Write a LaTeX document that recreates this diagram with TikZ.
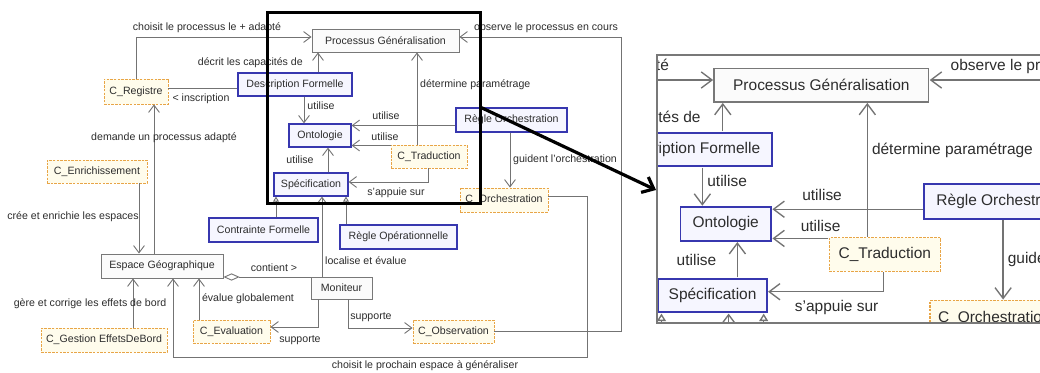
\documentclass[tikz,border=0pt]{standalone}
\usepackage{fontspec}
\setmainfont{Liberation Sans}
\usetikzlibrary{arrows.meta}
\definecolor{bluebd}{RGB}{55,55,175}
\definecolor{bluefill}{RGB}{246,246,255}
\definecolor{orbd}{RGB}{232,165,70}
\definecolor{orfill}{RGB}{255,252,236}
\definecolor{graybd}{RGB}{120,120,120}
\definecolor{grayfill}{RGB}{251,251,251}
\definecolor{conn}{RGB}{115,115,115}
\definecolor{txt}{RGB}{45,45,45}
\def\lw{0.9pt}
\tikzset{
  base/.style={font=\fontsize{10.6pt}{12pt}\selectfont, text=txt, inner sep=0pt, anchor=center},
  boxsz/.style 2 args={minimum width=#1pt, minimum height=#2pt},
  bluebox/.style={base, draw=bluebd, fill=bluefill, line width=1.4*\lw},
  orbox/.style={base, draw=orbd, fill=orfill, line width=\lw, dash pattern=on 2.5pt off 1.2pt},
  graybox/.style={base, draw=graybd, fill=grayfill, line width=\lw},
  lbl/.style={base},
  cn/.style={draw=conn, line width=\lw},
  arr/.style={cn, -{Straight Barb[length=0pt 8, width=0pt 12]}},
  gen/.style={cn, -{Triangle[open, length=0pt 5.5, width=0pt 6.5]}},
  agg/.style={cn, {Diamond[open, length=0pt 18, width=0pt 8]}-},
}
\newcommand{\drawdiagram}{%
  % nodes
  \node[graybox, boxsz={147}{23}] (proc) at (385.5,40.5) {Processus Généralisation};
  \node[bluebox, boxsz={114}{23}] (desc) at (295,84.5) {Description Formelle};
  \node[orbox, boxsz={64}{25}] (reg) at (136,91.5) {C\_Registre};
  \node[bluebox, boxsz={62}{23}] (onto) at (320,135.5) {Ontologie};
  \node[bluebox, boxsz={111}{24}] (rorch) at (511.5,120) {Règle Orchestration};
  \node[orbox, boxsz={76}{23}] (trad) at (429,156.5) {C\_Traduction};
  \node[bluebox, boxsz={74}{23}] (spec) at (311,184.5) {Spécification};
  \node[bluebox, boxsz={109}{24}] (contr) at (263.5,230) {Contrainte Formelle};
  \node[bluebox, boxsz={117}{24}] (rop) at (398.5,237) {Règle Opérationnelle};
  \node[orbox, boxsz={88}{24}] (corch) at (504,200) {C\_Orchestration};
  \node[orbox, boxsz={100}{23}] (enr) at (97,171.5) {C\_Enrichissement};
  \node[graybox, boxsz={122}{24}] (esp) at (162,266) {Espace Géographique};
  \node[graybox, boxsz={61}{22}] (mon) at (341.5,288) {Moniteur};
  \node[orbox, boxsz={77}{23}] (eval) at (231.5,331.5) {C\_Evaluation};
  \node[orbox, boxsz={126}{24}] (gest) at (104,340) {C\_Gestion EffetsDeBord};
  \node[orbox, boxsz={81}{23}] (obs) at (453.5,331.5) {C\_Observation};
  % connectors
  \draw[arr] (reg.north) |- (proc.west |- 0,37);
  \node[lbl] (l1) at (207,28) {choisit le processus le + adapté};
  \draw[arr] (desc.north -| 318,0) -- (proc.south -| 318,0);
  \node[lbl, anchor=east] (l2) at (303,63) {décrit les capacités de};
  \draw[cn] (desc.west |- 0,88) -- (reg.east |- 0,88);
  \node[lbl] (l3) at (201,99) {< inscription};
  \draw[arr] (desc.south -| 304,0) -- (onto.north -| 304,0);
  \node[lbl] (l4) at (321,106) {utilise};
  \draw[arr] (rorch.west |- 0,125.5) -- (onto.east |- 0,125.5);
  \node[lbl] (l5) at (386,116) {utilise};
  \draw[arr] (trad.west |- 0,145.5) -- (onto.east |- 0,145.5);
  \node[lbl] (l6) at (385,137) {utilise};
  \draw[arr] (trad.north -| 417,0) -- (proc.south -| 417,0);
  \node[lbl, anchor=west] (l7) at (420,85) {détermine paramétrage};
  \draw[arr] (trad.south -| 428,0) |- (spec.east |- 0,182);
  \node[lbl] (l8) at (396,193) {s'appuie sur};
  \draw[arr] (spec.north -| 328,0) -- (onto.south -| 328,0);
  \node[lbl] (l9) at (300,160) {utilise};
  \draw[arr] (rorch.south -| 510,0) -- (corch.north -| 510,0);
  \node[lbl, anchor=west] (l10) at (513,160) {guident l'orchestration};
  \draw[arr] (corch.east |- 0,196) -| (587,357) -| (esp.south -| 173,0);
  \node[lbl] (l11) at (425,365.5) {choisit le prochain espace à généraliser};
  \draw[arr] (obs.east |- 0,331) -| (621,37) -- (proc.east |- 0,37);
  \node[lbl] (l12) at (546,28) {observe le processus en cours};
  \draw[arr] (mon.south -| 348,0) |- (obs.west |- 0,328);
  \node[lbl] (l13) at (371,317) {supporte};
  \draw[arr] (mon.south -| 318,0) |- (eval.east |- 0,327);
  \node[lbl] (l14) at (300,340) {supporte};
  \draw[arr] (mon.north -| 322,0) -- (spec.south -| 322,0);
  \node[lbl, anchor=west] (l15) at (325,261) {localise et évalue};
  \draw[gen] (contr.north -| 276,0) -- (spec.south -| 276,0);
  \draw[gen] (rop.north -| 346,0) -- (spec.south -| 346,0);
  \draw[agg] (esp.east |- 0,277) -- (mon.west |- 0,277);
  \node[lbl] (l16) at (274,268) {contient >};
  \draw[arr] (esp.north -| 154,0) -- (reg.south -| 154,0);
  \node[lbl] (l17) at (164,138) {demande un processus adapté};
  \draw[arr] (enr.south -| 139,0) -- (esp.north -| 139,0);
  \node[lbl] (l18) at (73,217) {crée et enrichie les espaces};
  \draw[arr] (gest.north -| 133,0) -- (esp.south -| 133,0);
  \node[lbl] (l19) at (90,304) {gère et corrige les effets de bord};
  \draw[arr] (eval.north -| 199,0) -- (esp.south -| 199,0);
  \node[lbl] (l20) at (248,299) {évalue globalement};
}
\begin{document}
\begin{tikzpicture}[x=1pt, y=-1pt]
  \useasboundingbox (0,0) rectangle (1040,372);
  \fill[white] (0,0) rectangle (1040,372);
  \drawdiagram
  % zoom frame and arrow
  \draw[black, line width=3pt] (267,12) rectangle (480,203);
  \coordinate (fa) at (480,107);
  \coordinate (fb) at (656,190);
  \draw[black, line width=3.2pt, -{Straight Barb[length=10pt, width=17pt]}] (fa) -- (fb);
  % inset
  \begin{scope}
    \clip (657,55) rectangle (1040,323);
    \fill[white] (657,55) rectangle (1040,323);
    \begin{scope}[shift={(258.5,26)}, scale=1.46, transform shape, name prefix=z-]
      \def\lw{1.35pt}
      \drawdiagram
    \end{scope}
  \end{scope}
  \draw[graybd, line width=2pt] (1042,55) -- (657,55) -- (657,323) -- (1042,323);
\end{tikzpicture}
\end{document}
